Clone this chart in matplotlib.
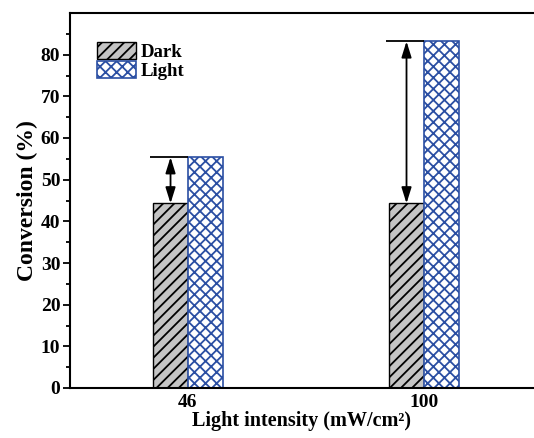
import matplotlib
matplotlib.use("Agg")
import matplotlib.pyplot as plt
import numpy as np

plt.rcParams['font.family'] = ['Liberation Serif', 'DejaVu Serif']
plt.rcParams['font.weight'] = 'bold'
plt.rcParams['hatch.linewidth'] = 1.3

categories = ['46', '100']
dark = [44.3, 44.3]
light = [55.4, 83.2]

blue = '#2b4fa3'
grey = '#c4c4c4'

fig = plt.figure(figsize=(5.34, 4.38), dpi=100)
ax = fig.add_axes([70/534, 50/438, (533-70)/534, 375/438])

x = np.arange(len(categories))
w = 0.148
ax.bar(x - w/2, dark, width=w, color=grey, edgecolor='black', hatch='///', linewidth=1.0, label='Dark')
ax.bar(x + w/2, light, width=w, color='white', edgecolor=blue, hatch='xxx', linewidth=1.2, label='Light')

for xi, d, l in zip(x, dark, light):
    ax.plot([xi - w - 0.012, xi], [l, l], color='black', lw=1.3, solid_capstyle='butt')
    ax.annotate('', xy=(xi - w/2, l), xytext=(xi - w/2, d),
                arrowprops=dict(arrowstyle='<|-|>,head_length=0.8,head_width=0.25', color='black', lw=1.3,
                                shrinkA=0, shrinkB=0, mutation_scale=12))

ax.set_xlim(-0.5, 1.462)
ax.set_ylim(0, 90)
ax.set_xticks(x)
ax.set_xticklabels(categories)
ax.set_yticks(np.arange(0, 81, 10))
ax.set_yticks(np.arange(5, 90, 10), minor=True)
ax.tick_params(axis='x', length=0, labelsize=14, pad=4)
ax.tick_params(axis='y', which='major', direction='out', length=5, width=1.3, labelsize=14, pad=2)
ax.tick_params(axis='y', which='minor', direction='out', length=3, width=1.3)
ax.spines['right'].set_visible(False)
for s in ['left', 'bottom', 'top']:
    ax.spines[s].set_linewidth(1.5)

ax.set_xlabel('Light intensity (mW/cm\u00b2)', fontsize=14.5, fontweight='bold', labelpad=0)
ax.set_ylabel('Conversion (%)', fontsize=17, fontweight='bold', labelpad=2)

leg = ax.legend(loc='upper left', bbox_to_anchor=(97/534, 1 - 42/438), bbox_transform=fig.transFigure,
                frameon=False, fontsize=13.5, handlelength=2.1, handleheight=1.05,
                labelspacing=0.0, borderpad=0, borderaxespad=0, handletextpad=0.25)

fig.savefig('out.png', dpi=100)
